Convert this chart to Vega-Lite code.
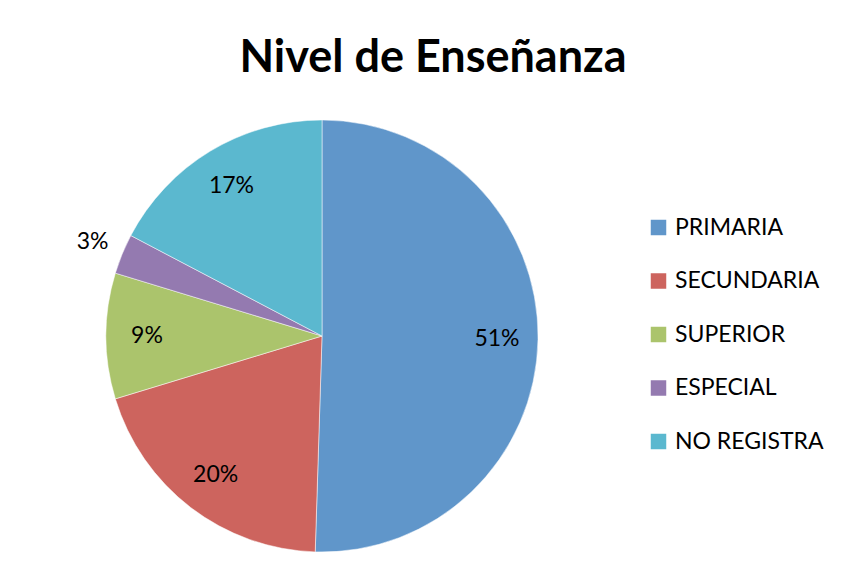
{
  "$schema": "https://vega.github.io/schema/vega-lite/v6.json",
  "width": 432,
  "height": 432,
  "autosize": {"type": "none"},
  "padding": {"left": 106, "top": 120, "right": 304, "bottom": 12},
  "background": "white",
  "title": {
    "text": "Nivel de Enseñanza",
    "font": "Lato",
    "fontSize": 45,
    "fontWeight": "bold",
    "color": "black",
    "anchor": "middle",
    "dx": 111,
    "offset": -4,
    "baseline": "alphabetic"
  },
  "data": {
    "values": [
      {"nivel": "PRIMARIA", "valor": 50.5, "etiqueta": "51%", "orden": 1},
      {"nivel": "SECUNDARIA", "valor": 19.8, "etiqueta": "20%", "orden": 2},
      {"nivel": "SUPERIOR", "valor": 9.4, "etiqueta": "9%", "orden": 3},
      {"nivel": "ESPECIAL", "valor": 3.0, "etiqueta": "3%", "orden": 4},
      {"nivel": "NO REGISTRA", "valor": 17.3, "etiqueta": "17%", "orden": 5}
    ]
  },
  "encoding": {
    "theta": {"field": "valor", "type": "quantitative", "stack": true},
    "order": {"field": "orden", "type": "quantitative"}
  },
  "layer": [
    {
      "mark": {"type": "arc", "outerRadius": 216, "stroke": "white", "strokeWidth": 0.5},
      "encoding": {
        "color": {
          "field": "nivel",
          "type": "nominal",
          "scale": {
            "domain": ["PRIMARIA", "SECUNDARIA", "SUPERIOR", "ESPECIAL", "NO REGISTRA"],
            "range": ["#6096CA", "#CD645E", "#ABC46C", "#947AB0", "#5BB8CF"]
          },
          "legend": {
            "title": null,
            "orient": "none",
            "legendX": 541,
            "legendY": 96,
            "symbolType": "square",
            "symbolSize": 240,
            "symbolStrokeWidth": 0,
            "labelFont": "Lato",
            "labelFontSize": 23,
            "labelColor": "black",
            "labelOffset": 5,
            "rowPadding": 29.5
          }
        }
      }
    },
    {
      "mark": {"type": "text", "radius": 175, "font": "Lato", "fontSize": 23, "fill": "black", "align": "center", "baseline": "middle"},
      "encoding": {
        "detail": {"field": "nivel", "type": "nominal"},
        "text": {"condition": {"test": "datum.nivel !== 'ESPECIAL'", "field": "etiqueta"}, "value": ""}
      }
    },
    {
      "mark": {"type": "text", "radius": 248, "font": "Lato", "fontSize": 23, "fill": "black", "align": "center", "baseline": "middle"},
      "encoding": {
        "detail": {"field": "nivel", "type": "nominal"},
        "text": {"condition": {"test": "datum.nivel === 'ESPECIAL'", "field": "etiqueta"}, "value": ""}
      }
    }
  ]
}
